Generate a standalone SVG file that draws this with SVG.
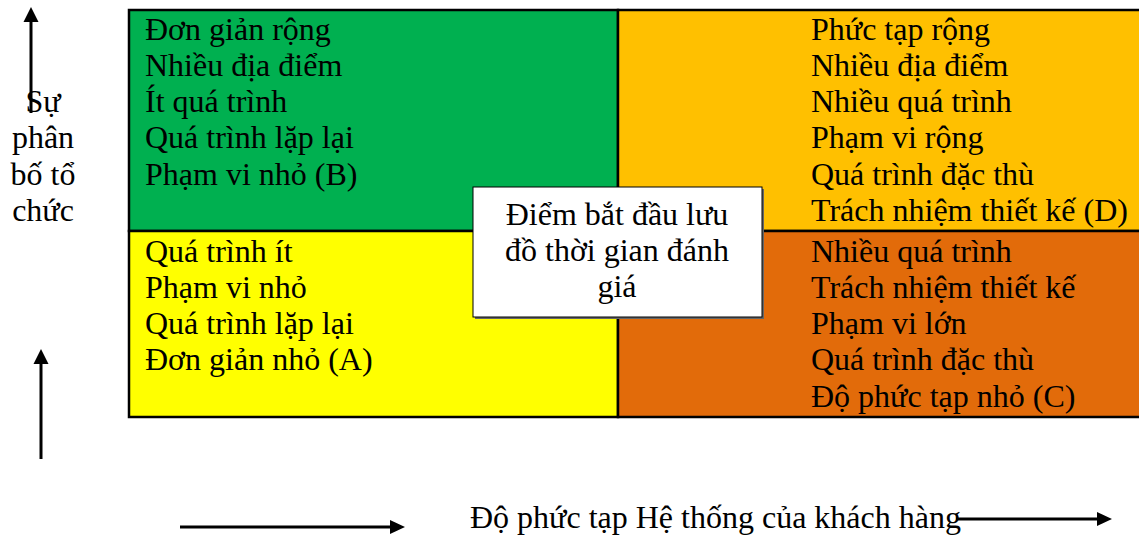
<svg xmlns="http://www.w3.org/2000/svg" width="1139" height="537" viewBox="0 0 1139 537">
<style>
text{font-family:"Liberation Serif","Times New Roman",serif;font-size:32px;fill:#000}
.mid{text-anchor:middle}
.q{stroke:#000;stroke-width:2.5}
.ar{stroke:#000;stroke-width:3;fill:none}
.hd{fill:#000}
</style>
<rect width="1139" height="537" fill="#fff"/>
<g id="quadB">
<rect class="q" x="129" y="10" width="489" height="221" fill="#00B050"/>
<text x="145" y="40">Đơn giản rộng</text>
<text x="145" y="76">Nhiều địa điểm</text>
<text x="145" y="112">Ít quá trình</text>
<text x="145" y="148">Quá trình lặp lại</text>
<text x="145" y="185">Phạm vi nhỏ (B)</text>
</g>
<g id="quadD">
<rect class="q" x="618" y="10" width="524" height="221" fill="#FFC000"/>
<text x="811" y="40">Phức tạp rộng</text>
<text x="811" y="76">Nhiều địa điểm</text>
<text x="811" y="112">Nhiều quá trình</text>
<text x="811" y="148">Phạm vi rộng</text>
<text x="811" y="185">Quá trình đặc thù</text>
<text x="811" y="221">Trách nhiệm thiết kế (D)</text>
</g>
<g id="quadA">
<rect class="q" x="129" y="231" width="489" height="186" fill="#FFFF00"/>
<text x="145" y="262">Quá trình ít</text>
<text x="145" y="298">Phạm vi nhỏ</text>
<text x="145" y="334">Quá trình lặp lại</text>
<text x="145" y="370">Đơn giản nhỏ (A)</text>
</g>
<g id="quadC">
<rect class="q" x="618" y="231" width="524" height="186" fill="#E26B0A"/>
<text x="811" y="262">Nhiều quá trình</text>
<text x="811" y="298">Trách nhiệm thiết kế</text>
<text x="811" y="334">Phạm vi lớn</text>
<text x="811" y="370">Quá trình đặc thù</text>
<text x="811" y="407">Độ phức tạp nhỏ (C)</text>
</g>
<g id="center">
<rect x="475" y="189" width="289" height="130" fill="#666"/>
<rect x="473" y="187" width="289" height="130" fill="#fff" stroke="#000" stroke-width="1"/>
<text class="mid" x="617" y="225">Điểm bắt đầu lưu</text>
<text class="mid" x="617" y="261">đồ thời gian đánh</text>
<text class="mid" x="617" y="297">giá</text>
</g>
<g id="yLabel">
<text class="mid" x="43" y="112">Sự</text>
<text class="mid" x="43" y="148">phân</text>
<text class="mid" x="43" y="185">bố tổ</text>
<text class="mid" x="43" y="221">chức</text>
</g>
<g id="xLabel">
<text x="470" y="528">Độ phức tạp Hệ thống của khách hàng</text>
</g>
<g id="connectors">
<line class="ar" x1="31" y1="113" x2="31" y2="20"/>
<polygon class="hd" points="31,7 23.5,22 38.5,22"/>
<line class="ar" x1="41" y1="459" x2="41" y2="362"/>
<polygon class="hd" points="41,349 33.5,364 48.5,364"/>
<line class="ar" x1="180" y1="527" x2="392" y2="527"/>
<polygon class="hd" points="405,527 390,520 390,534"/>
<line class="ar" x1="956" y1="519" x2="1099" y2="519"/>
<polygon class="hd" points="1112,519 1097,512 1097,526"/>
</g>
</svg>
